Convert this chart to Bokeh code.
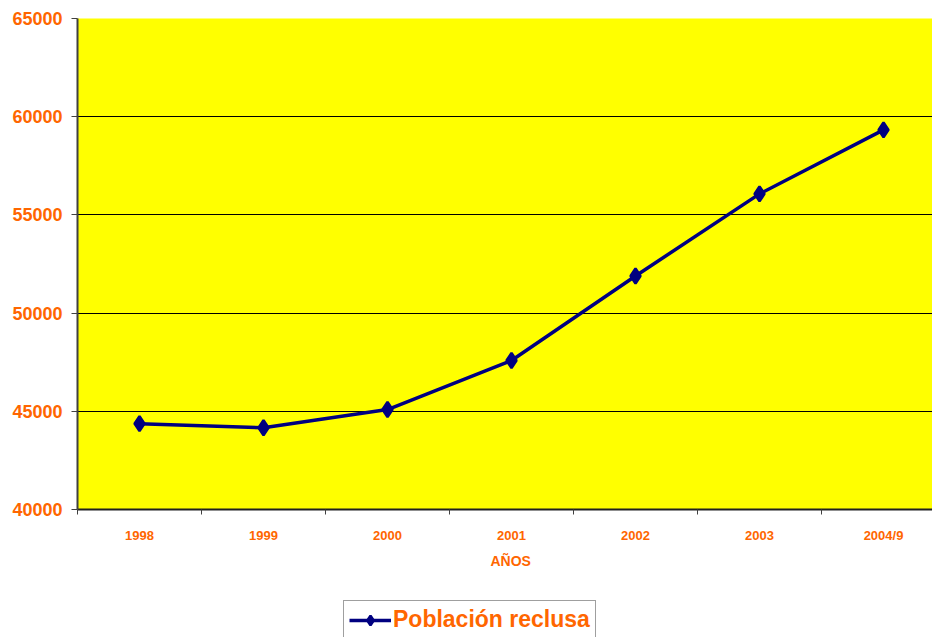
from bokeh.plotting import figure
from bokeh.layouts import column
from bokeh.models import (Range1d, FixedTicker, Legend, LegendItem, Grid,
                          ColumnDataSource, Title)
from bokeh.embed import file_html
from bokeh.resources import INLINE

# Prison population by year
years = ["1998", "1999", "2000", "2001", "2002", "2003", "2004/9"]
poblacion = [44370, 44160, 45090, 47590, 51890, 56070, 59330]
y_ticks = [40000, 45000, 50000, 55000, 60000, 65000]
serie = "Población reclusa"

ORANGE = "#FF6600"
NAVY = "#000080"
FONT = "Liberation Sans"

xs = list(range(len(years)))
src = ColumnDataSource(data=dict(x=xs, y=poblacion, year=years))

p = figure(width=932, height=600, output_backend="svg", toolbar_location=None,
           x_range=Range1d(-0.5, 6.395), y_range=Range1d(40000, 65000),
           min_border_left=77, min_border_top=18, min_border_right=0,
           min_border_bottom=91, background_fill_color="#FFFF00",
           border_fill_color="white", outline_line_color=None)

# grid: black lines inside, grey line on top edge
p.xgrid.visible = False
p.ygrid.visible = False
p.add_layout(Grid(dimension=1, ticker=FixedTicker(ticks=[45000, 50000, 55000, 60000]),
                  grid_line_color="#000000", grid_line_width=1))
p.add_layout(Grid(dimension=1, ticker=FixedTicker(ticks=[65000]),
                  grid_line_color="#808080", grid_line_width=2))

# y axis
ya = p.yaxis[0]
ya.ticker = FixedTicker(ticks=y_ticks)
ya.major_label_text_color = ORANGE
ya.major_label_text_font = FONT
ya.major_label_text_font_style = "bold"
ya.major_label_text_font_size = "18px"
ya.major_label_standoff = 9
ya.major_tick_out = 6
ya.major_tick_in = 0
ya.minor_tick_out = 0
ya.minor_tick_in = 0
ya.axis_line_color = "#404040"
ya.axis_line_width = 2
ya.major_tick_line_color = "#404040"

# x axis: labels at category centres, tick marks at category boundaries
xa = p.xaxis[0]
xa.ticker = FixedTicker(ticks=xs, minor_ticks=[i + 0.5 for i in range(-1, 7)])
xa.major_label_overrides = {i: y for i, y in enumerate(years)}
xa.major_tick_out = 0
xa.major_tick_in = 0
xa.minor_tick_out = 5
xa.minor_tick_in = 0
xa.minor_tick_line_color = "#404040"
xa.axis_line_color = "#202020"
xa.axis_line_width = 2
xa.major_label_text_color = ORANGE
xa.major_label_text_font = FONT
xa.major_label_text_font_style = "bold"
xa.major_label_text_font_size = "13px"
xa.major_label_standoff = 13

# axis title under the tick labels, centred on the 2001 column
p.add_layout(Title(text="AÑOS", align="left", offset=413, standoff=11,
                   text_color=ORANGE, text_font=FONT, text_font_style="bold",
                   text_font_size="14px"), "below")

p.line("x", "y", source=src, line_color=NAVY, line_width=3.5)
p.scatter("x", "y", source=src, marker="diamond", size=15, line_width=2.5,
          fill_color=NAVY, line_color=NAVY)

# legend strip below the chart; its ranges keep the series itself out of view
lg = figure(width=932, height=37, output_backend="svg", toolbar_location=None,
            x_range=Range1d(100, 101), y_range=Range1d(0, 1),
            x_axis_location=None, y_axis_location=None,
            min_border=0, outline_line_color=None,
            background_fill_color="white", border_fill_color="white")
lg.xgrid.visible = False
lg.ygrid.visible = False
key_line = lg.line("x", "y", source=src, line_color=NAVY, line_width=3.5)
key_pts = lg.scatter("x", "y", source=src, marker="diamond", size=15,
                     line_width=2.5, fill_color=NAVY, line_color=NAVY)
legend = Legend(items=[LegendItem(label=serie, renderers=[key_line, key_pts])],
                location=(266, -2), orientation="horizontal",
                border_line_color="#404040", border_line_width=1,
                background_fill_color="white", background_fill_alpha=1,
                label_text_color=ORANGE, label_text_font=FONT,
                label_text_font_style="bold", label_text_font_size="23px",
                glyph_width=42, glyph_height=24, label_standoff=2,
                padding=5, margin=0, spacing=0)
lg.add_layout(legend, "center")

open("out.html", "w").write(file_html(column(p, lg, spacing=0), INLINE))
